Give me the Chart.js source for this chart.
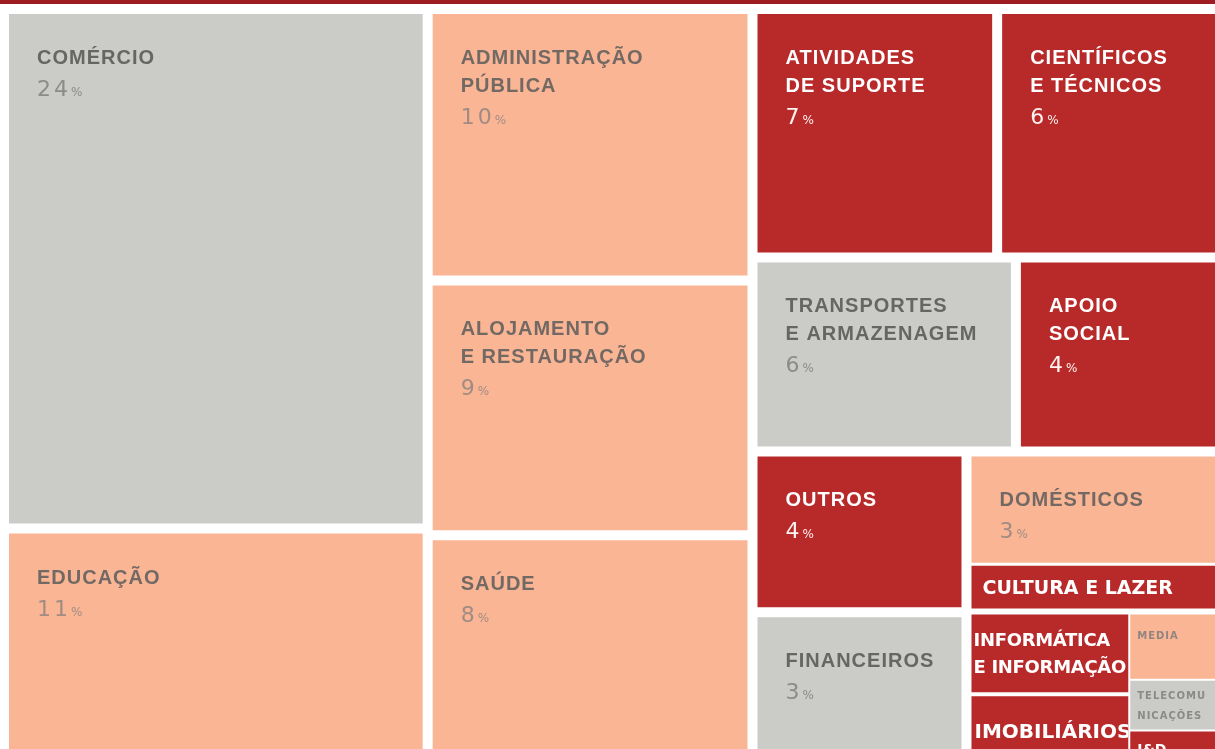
<!DOCTYPE html>
<html lang="pt">
<head>
<meta charset="utf-8">
<script src="https://cdn.jsdelivr.net/npm/chart.js@4.4.1/dist/chart.umd.min.js"></script>
<style>
  html, body { margin: 0; padding: 0; background: #fff; overflow: hidden; }
  #wrap { position: relative; width: 1215px; height: 749px; }
  #topRule { position: absolute; left: 0; top: 0; width: 1215px; height: 4px; background: #9c1c21; }
</style>
</head>
<body>
<div id="wrap"><canvas id="treemap"></canvas><div id="topRule"></div></div>
<script>
// sectors (share of the total; shown % as printed)
const sectors = [
  'COMÉRCIO', 'EDUCAÇÃO', 'ADMINISTRAÇÃO\nPÚBLICA', 'ALOJAMENTO\nE RESTAURAÇÃO', 'SAÚDE',
  'ATIVIDADES\nDE SUPORTE', 'CIENTÍFICOS\nE TÉCNICOS', 'TRANSPORTES\nE ARMAZENAGEM', 'APOIO\nSOCIAL',
  'OUTROS', 'FINANCEIROS', 'DOMÉSTICOS', 'CULTURA E LAZER', 'INFORMÁTICA\nE INFORMAÇÃO',
  'IMOBILIÁRIOS', 'MEDIA', 'TELECOMU\nNICAÇÕES', 'I&D'
];
const shares = [24.0, 10.95, 9.5, 8.9, 8.2, 6.6, 6.1, 5.5, 4.3, 3.75, 3.7, 3.23, 1.3, 1.52, 1.36, 0.71, 0.54, 0.38];
const shownPct = [24, 11, 10, 9, 8, 7, 6, 6, 4, 4, 3, 3, null, null, null, null, null, null];
const tones = ['grey', 'salmon', 'salmon', 'salmon', 'salmon', 'red', 'red', 'grey', 'red',
  'red', 'grey', 'salmon', 'red', 'red', 'red', 'salmon', 'grey', 'red'];
const labelKinds = ['big', 'big', 'big', 'big', 'big', 'big', 'big', 'big', 'big',
  'big', 'big', 'big', 'band', 'flat', 'slab', 'tiny', 'tiny', 'mini'];

// how the cells are nested (indexes into sectors), h = side by side, v = stacked
const layoutTree = { dir: 'h', gap: 10, kids: [
  { dir: 'v', gap: 10, kids: [0, 1] },
  { dir: 'v', gap: 10, kids: [2, 3, 4] },
  { dir: 'v', gap: 10, kids: [
    { dir: 'h', gap: 10, kids: [5, 6] },
    { dir: 'h', gap: 10, kids: [7, 8] },
    { dir: 'h', gap: 10, kids: [
      { dir: 'v', gap: 10, kids: [9, 10] },
      { dir: 'v', gap: 6, kids: [
        { dir: 'v', gap: 3, kids: [11, 12] },
        { dir: 'h', gap: 2, kids: [
          { dir: 'v', gap: 4, kids: [13, 14] },
          { dir: 'v', gap: 2, kids: [15, 16, 17] }
        ] }
      ] }
    ] }
  ] }
] };

const palette = {
  grey:   { fill: '#cbcbc8', label: '#666664', num: '#8b8b89', tiny: '#8a8a88' },
  salmon: { fill: '#f9b594', label: '#736964', num: '#a08c82', tiny: '#928580' },
  red:    { fill: '#b8292a', label: '#ffffff', num: '#fff3ef', tiny: '#ffffff' }
};

const kindStyles = {
  big:  { font: '700 20px "Liberation Sans"', spacing: '1px', padX: 28, firstBase: 50, step: 28 },
  band: { font: '700 19px "DejaVu Sans"', spacing: '0px', padX: 11, center: true, step: 0 },
  flat: { font: '700 18px "DejaVu Sans"', spacing: '-0.3px', padX: 2, center: true, step: 27 },
  slab: { font: '700 20px "DejaVu Sans"', spacing: '0px', padX: 3, center: true, step: 0 },
  tiny: { font: '700 10px "DejaVu Sans"', spacing: '1px', padX: 7, center: true, maxFirst: 24, step: 20 },
  mini: { font: '700 14px "DejaVu Sans"', spacing: '0px', padX: 7, center: true, step: 0 }
};

function nodeSum(n) {
  return typeof n === 'number' ? shares[n] : n.kids.reduce((s, k) => s + nodeSum(k), 0);
}

function layout(node, box, out) {
  if (typeof node === 'number') { out[node] = box; return; }
  const total = nodeSum(node);
  const horiz = node.dir === 'h';
  const len = horiz ? box.x1 - box.x0 : box.y1 - box.y0;
  const free = len - node.gap * (node.kids.length - 1);
  let pos = horiz ? box.x0 : box.y0;
  node.kids.forEach(k => {
    const size = free * nodeSum(k) / total;
    const b = horiz
      ? { x0: pos, x1: pos + size, y0: box.y0, y1: box.y1 }
      : { x0: box.x0, x1: box.x1, y0: pos, y1: pos + size };
    layout(k, b, out);
    pos += size + node.gap;
  });
}

// the treemap runs a little past the photographed frame on the right and bottom
const cells = [];
layout(layoutTree, { x0: 9, x1: 1219, y0: 14, y1: 766 }, cells);

const datasets = sectors.map((name, i) => {
  const b = cells[i];
  return {
    label: name,
    data: [
      { x: b.x0, y: b.y0 }, { x: b.x1, y: b.y0 }, { x: b.x1, y: b.y1 },
      { x: b.x0, y: b.y1 }, { x: b.x0, y: b.y0 }
    ],
    showLine: true,
    fill: 'shape',
    backgroundColor: palette[tones[i]].fill,
    borderColor: 'rgba(0,0,0,0)',
    borderWidth: 0,
    pointRadius: 0,
    pointHoverRadius: 0,
    tension: 0
  };
});

const cellLabels = {
  id: 'cellLabels',
  afterDatasetsDraw(chart) {
    const { ctx, chartArea, scales: { x, y } } = chart;
    ctx.textAlign = 'left';
    ctx.textBaseline = 'alphabetic';
    sectors.forEach((name, i) => {
      const b = cells[i];
      const left = x.getPixelForValue(b.x0);
      const right = Math.min(x.getPixelForValue(b.x1), chartArea.right);
      const top = y.getPixelForValue(b.y0);
      const bottom = Math.min(y.getPixelForValue(b.y1), chartArea.bottom);
      const st = kindStyles[labelKinds[i]];
      const col = palette[tones[i]];
      const lines = name.split('\n');
      const size = parseFloat(st.font.split(' ')[1]);
      const capH = size * 0.72;

      ctx.save();
      ctx.beginPath();
      ctx.rect(left, top, right - left, bottom - top);
      ctx.clip();

      let base;
      if (st.center) {
        const cellBottom = y.getPixelForValue(b.y1);
        const blockH = capH + (lines.length - 1) * st.step;
        base = (top + cellBottom) / 2 - blockH / 2 + capH;
        if (st.maxFirst) base = Math.min(base, top + st.maxFirst);
      } else {
        base = top + st.firstBase;
      }

      ctx.font = st.font;
      ctx.letterSpacing = st.spacing;
      ctx.fillStyle = labelKinds[i] === 'tiny' ? col.tiny : col.label;
      lines.forEach((ln, j) => ctx.fillText(ln, left + st.padX, base + j * st.step));

      if (shownPct[i] !== null) {
        const pBase = base + (lines.length - 1) * st.step + 32;
        ctx.font = '400 22px "DejaVu Sans"';
        ctx.letterSpacing = '3px';
        ctx.fillStyle = col.num;
        const txt = String(shownPct[i]);
        ctx.fillText(txt, left + st.padX, pBase);
        const w = ctx.measureText(txt).width;
        ctx.font = '400 12px "DejaVu Sans"';
        ctx.letterSpacing = '0px';
        ctx.fillText('%', left + st.padX + w, pBase);
      }
      ctx.restore();
    });
  }
};

const chartCanvas = document.getElementById('treemap');
chartCanvas.width = 1215;
chartCanvas.height = 749;

new Chart(chartCanvas, {
  type: 'scatter',
  data: { datasets: datasets },
  options: {
    responsive: false,
    animation: false,
    layout: { padding: 0 },
    plugins: { legend: { display: false }, tooltip: { enabled: false } },
    events: [],
    scales: {
      x: { type: 'linear', min: 0, max: 1215, display: false },
      y: { type: 'linear', min: 0, max: 749, reverse: true, display: false }
    }
  },
  plugins: [cellLabels]
});
</script>
</body>
</html>
